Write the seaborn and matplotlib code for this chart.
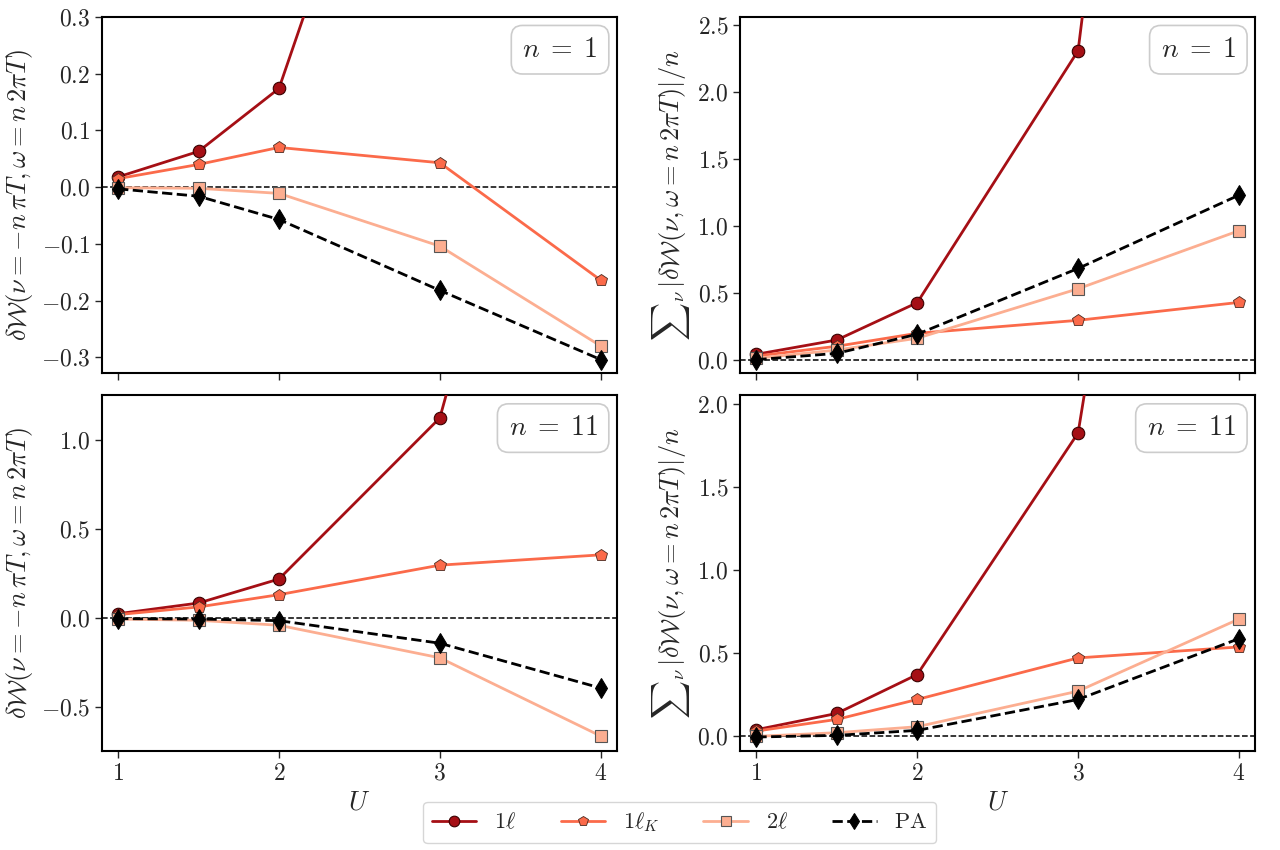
import matplotlib
matplotlib.use("Agg")
import matplotlib.pyplot as plt
import seaborn as sns

# coupling values
U = [1.0, 1.5, 2.0, 3.0, 4.0]

# n = 1, delta W(nu=-n pi T, omega=n 2 pi T)
w1_1l = [0.018, 0.063, 0.174, 1.0, 4.0]
w1_1lK = [0.015, 0.040, 0.070, 0.043, -0.164]
w1_2l = [-0.001, -0.002, -0.011, -0.104, -0.280]
w1_pa = [-0.003, -0.016, -0.057, -0.182, -0.304]

# n = 1, sum over nu |delta W| / n
s1_1l = [0.040, 0.147, 0.426, 2.31, 12.0]
s1_1lK = [0.027, 0.100, 0.197, 0.294, 0.428]
s1_2l = [0.010, 0.072, 0.160, 0.530, 0.964]
s1_pa = [0.000, 0.047, 0.190, 0.682, 1.230]

# n = 11, delta W
w11_1l = [0.024, 0.084, 0.219, 1.125, 4.4]
w11_1lK = [0.019, 0.062, 0.131, 0.297, 0.355]
w11_2l = [-0.006, -0.013, -0.041, -0.224, -0.664]
w11_pa = [-0.004, -0.006, -0.015, -0.142, -0.394]

# n = 11, sum over nu
s11_1l = [0.040, 0.138, 0.372, 1.826, 7.8]
s11_1lK = [0.032, 0.102, 0.222, 0.472, 0.538]
s11_2l = [0.000, 0.022, 0.058, 0.272, 0.706]
s11_pa = [-0.004, 0.006, 0.036, 0.222, 0.588]

labels = [r'$1\ell$', r'$1\ell_K$', r'$2\ell$', r'$\mathrm{PA}$']

sns.set_style("ticks")
plt.rcParams['font.family'] = 'serif'
plt.rcParams['font.serif'] = ['cmr10', 'DejaVu Serif']
plt.rcParams['mathtext.fontset'] = 'cm'
plt.rcParams['axes.formatter.use_mathtext'] = True
plt.rcParams['axes.unicode_minus'] = True

fig, axes = plt.subplots(2, 2, figsize=(12.8, 8.5), dpi=100, sharex=True)
fig.subplots_adjust(left=0.0797, right=0.9805, bottom=0.1165, top=0.98,
                    wspace=0.24, hspace=0.064)

panels = [
    (axes[0, 0], [w1_1l, w1_1lK, w1_2l, w1_pa], r'$n\;=\;1$', (-0.327, 0.3),
     [-0.3, -0.2, -0.1, 0.0, 0.1, 0.2, 0.3]),
    (axes[0, 1], [s1_1l, s1_1lK, s1_2l, s1_pa], r'$n\;=\;1$', (-0.097, 2.562),
     [0.0, 0.5, 1.0, 1.5, 2.0, 2.5]),
    (axes[1, 0], [w11_1l, w11_1lK, w11_2l, w11_pa], r'$n\;=\;11$', (-0.748, 1.252),
     [-0.5, 0.0, 0.5, 1.0]),
    (axes[1, 1], [s11_1l, s11_1lK, s11_2l, s11_pa], r'$n\;=\;11$', (-0.088, 2.052),
     [0.0, 0.5, 1.0, 1.5, 2.0]),
]

ylab_w = r'$\delta\mathcal{W}(\nu=-n\,\pi T,\omega=n\,2\pi T)$'
ylab_s = r'${\sum}_{\nu}\,|\delta\mathcal{W}(\nu,\omega=n\,2\pi T)|/n$'

for i, (ax, series, ntxt, ylim, yticks) in enumerate(panels):
    ax.axhline(0, color='k', ls='--', lw=1.1, zorder=1)
    sns.lineplot(x=U, y=series[0], ax=ax, color='#a50f15', lw=2, marker='o',
                 markersize=9, markeredgecolor='#3a0000', markeredgewidth=0.8,
                 label=labels[0], zorder=3)
    sns.lineplot(x=U, y=series[1], ax=ax, color='#fb6a4a', lw=2, marker='p',
                 markersize=9, markeredgecolor='#4a2a20', markeredgewidth=0.6,
                 label=labels[1], zorder=3)
    sns.lineplot(x=U, y=series[2], ax=ax, color='#fcae91', lw=2, marker='s',
                 markersize=8, markeredgecolor='#555555', markeredgewidth=0.8,
                 label=labels[2], zorder=3)
    sns.lineplot(x=U, y=series[3], ax=ax, color='k', lw=2, ls='--', marker='d',
                 markersize=10, markeredgecolor='k', label=labels[3], zorder=4)
    ax.get_legend().remove()
    ax.set_xlim(0.9, 4.1)
    ax.set_ylim(*ylim)
    ax.set_yticks(yticks)
    ax.set_xticks([1, 2, 3, 4])
    ax.tick_params(labelsize=17, width=1, length=5)
    for sp in ax.spines.values():
        sp.set_linewidth(1.5)
        sp.set_color('k')
    ax.set_ylabel(ylab_w if i % 2 == 0 else ylab_s, fontsize=19, labelpad=4)
    if i >= 2:
        ax.set_xlabel(r'$U$', fontsize=19)
    else:
        ax.set_xlabel('')
    ax.text(0.963, 0.945, ntxt, transform=ax.transAxes, ha='right', va='top',
            fontsize=20, zorder=6,
            bbox=dict(boxstyle='round,pad=0.4', fc='white', ec='#cccccc', lw=1.2))

handles, labs = axes[0, 0].get_legend_handles_labels()
fig.legend(handles[-4:], labs[-4:], loc='lower center', ncol=4, fontsize=16,
           bbox_to_anchor=(0.531, -0.005), frameon=True, edgecolor='#cccccc',
           handlelength=2.0, columnspacing=2.0, markerscale=0.85)

plt.savefig('out.png', dpi=100)
